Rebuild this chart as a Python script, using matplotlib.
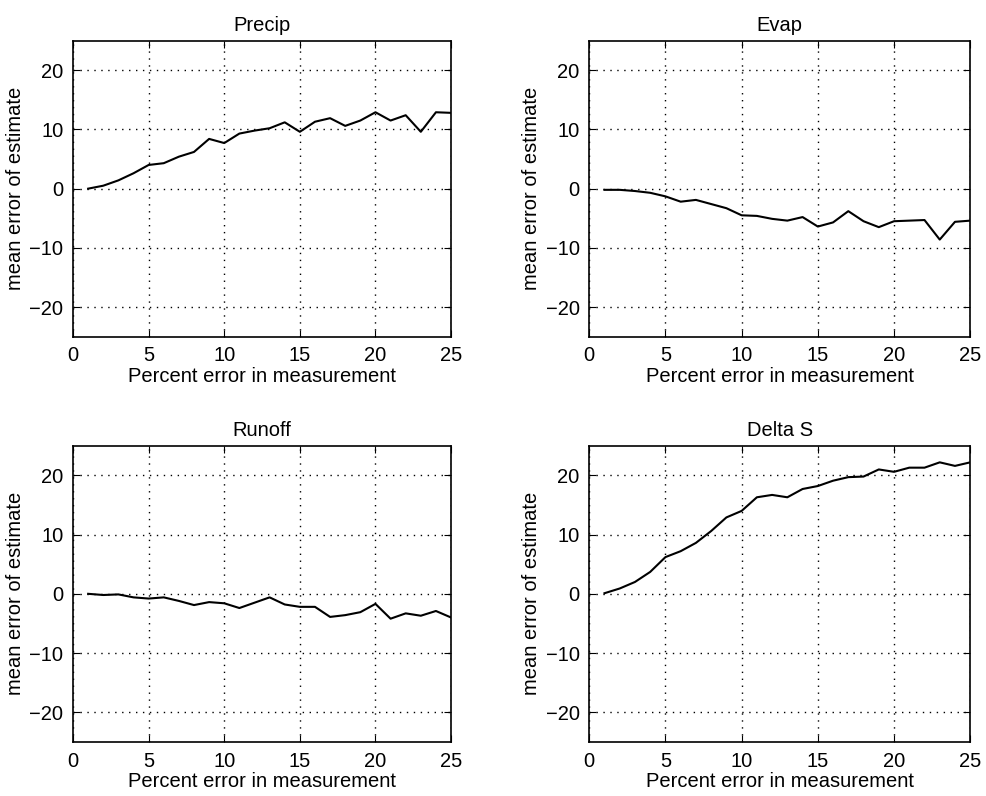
import matplotlib
matplotlib.use("Agg")
import matplotlib.pyplot as plt

plt.rcParams['font.family'] = ['Liberation Sans', 'DejaVu Sans']

# percent error in measurement
pct = list(range(1, 26))

precip = [0.0, 0.5, 1.4, 2.6, 4.0, 4.3, 5.4, 6.2, 8.4, 7.7, 9.3, 9.8, 10.2, 11.2, 9.6,
          11.3, 11.9, 10.6, 11.5, 12.9, 11.5, 12.4, 9.6, 12.9, 12.8]
evap = [-0.2, -0.2, -0.4, -0.7, -1.3, -2.2, -1.9, -2.6, -3.3, -4.5, -4.6, -5.1, -5.4, -4.8,
        -6.4, -5.7, -3.8, -5.5, -6.5, -5.5, -5.4, -5.3, -8.6, -5.6, -5.4]
runoff = [0.0, -0.2, -0.1, -0.6, -0.8, -0.6, -1.2, -1.9, -1.4, -1.6, -2.4, -1.5, -0.6, -1.8,
          -2.2, -2.2, -3.9, -3.6, -3.1, -1.7, -4.2, -3.3, -3.7, -2.9, -4.0]
delta_s = [0.1, 0.9, 2.0, 3.7, 6.2, 7.2, 8.6, 10.6, 12.9, 14.0, 16.3, 16.7, 16.3, 17.7, 18.2,
           19.1, 19.7, 19.8, 21.0, 20.6, 21.3, 21.3, 22.2, 21.6, 22.2]

titles = ["Precip", "Evap", "Runoff", "Delta S"]
series = [precip, evap, runoff, delta_s]

xticks = [0, 5, 10, 15, 20, 25]
yticks = [-20, -10, 0, 10, 20]

fig = plt.figure(figsize=(9.87, 7.96), dpi=100)

# axes boxes [left, bottom, width, height] in figure fractions
boxes = [
    [0.074, 0.577, 0.383, 0.372],
    [0.597, 0.577, 0.386, 0.372],
    [0.074, 0.068, 0.383, 0.372],
    [0.597, 0.068, 0.386, 0.372],
]

fs = 14.5

for box, title, vals in zip(boxes, titles, series):
    ax = fig.add_axes(box)
    ax.plot(pct, vals, color="black", linewidth=1.5)
    ax.set_xlim(0, 25)
    ax.set_ylim(-25, 25)
    ax.set_xticks(xticks)
    ax.set_yticks(yticks)
    ax.set_yticklabels(["\u221220", "\u221210", "0", "10", "20"])
    ax.grid(True, color="black", linestyle=(0, (1, 4)), linewidth=1.0)
    ax.tick_params(direction="in", top=True, right=True, length=5,
                   labelsize=fs, pad=7)
    for sp in ax.spines.values():
        sp.set_linewidth(1.2)
    ax.set_title(title, fontsize=fs, pad=7)
    ax.set_xlabel("Percent error in measurement", fontsize=fs, labelpad=1)
    ax.set_ylabel("mean error of estimate", fontsize=fs, labelpad=3)

fig.savefig("out.png", dpi=100)
